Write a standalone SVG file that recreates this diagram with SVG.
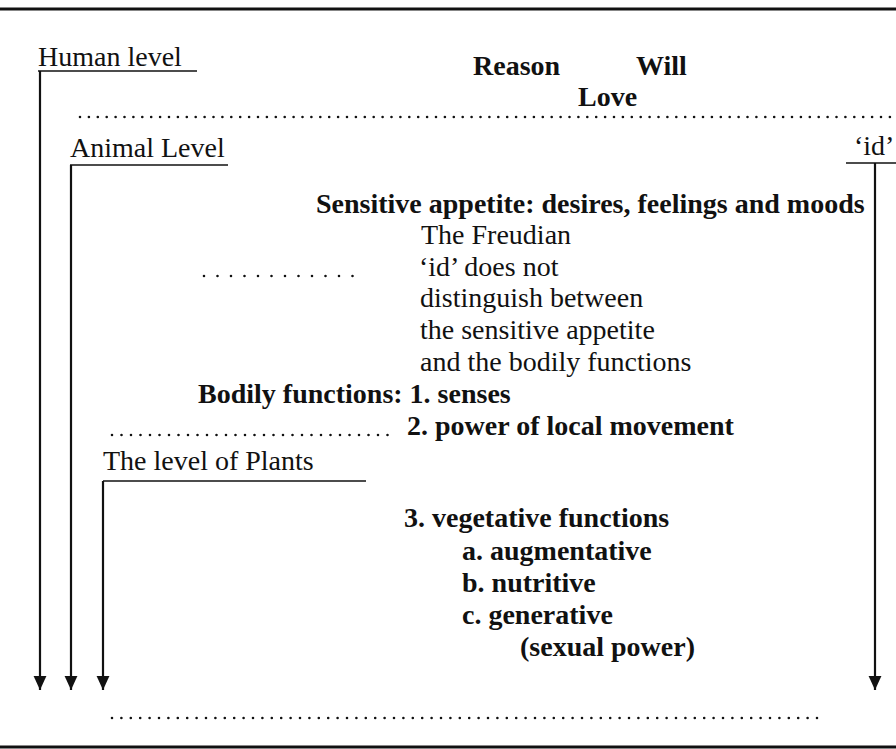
<svg xmlns="http://www.w3.org/2000/svg" width="896" height="749" viewBox="0 0 896 749">
<style>
text{font-family:"Liberation Serif","Times New Roman",serif;font-size:28px;fill:#111}
.b{font-weight:bold}
.rule{stroke:#111;stroke-width:3;fill:none}
.ul{stroke:#111;stroke-width:1.6;fill:none}
.arr{stroke:#111;stroke-width:2.2;fill:none}
.dot{stroke:#111;stroke-width:2.6;stroke-linecap:round;fill:none}
</style>
<defs>
<marker id="ah" markerUnits="userSpaceOnUse" markerWidth="14" markerHeight="14" refX="12" refY="6" orient="auto" viewBox="0 0 12 12">
<path d="M0,0.5 L12,6 L0,11.5 Z" fill="#111"/>
</marker>
</defs>
<rect width="896" height="749" fill="#fff"/>
<line class="rule" x1="0" y1="9" x2="896" y2="9"/>
<line class="rule" x1="0" y1="747" x2="896" y2="747"/>
<g id="connectors">
<path class="arr" d="M40,71 V690" marker-end="url(#ah)"/>
<path class="arr" d="M71,165 V690" marker-end="url(#ah)"/>
<path class="arr" d="M103,481 V690" marker-end="url(#ah)"/>
<path class="arr" d="M875,163 V690" marker-end="url(#ah)"/>
</g>
<g id="dividers">
<line class="dot" x1="80" y1="117" x2="896" y2="117" stroke-dasharray="0 8.9"/>
<line class="dot" x1="204" y1="276" x2="366" y2="276" stroke-dasharray="0 13.5"/>
<line class="dot" x1="112" y1="435" x2="388" y2="435" stroke-dasharray="0 9.5"/>
<line class="dot" x1="112" y1="718" x2="820" y2="718" stroke-dasharray="0 9.4"/>
</g>
<g id="human-level">
<text x="38" y="66">Human level</text>
<line class="ul" x1="38" y1="71" x2="197" y2="71"/>
</g>
<g id="human-powers">
<text class="b" x="473" y="75">Reason</text>
<text class="b" x="636" y="75">Will</text>
<text class="b" x="578" y="106">Love</text>
</g>
<g id="animal-level">
<text x="70" y="157">Animal Level</text>
<line class="ul" x1="70" y1="165" x2="228" y2="165"/>
</g>
<g id="id-label">
<text x="854" y="155">‘id’</text>
<line class="ul" x1="846" y1="163" x2="896" y2="163"/>
</g>
<g id="sensitive-appetite">
<text class="b" x="316" y="213">Sensitive appetite: desires, feelings and moods</text>
</g>
<g id="freudian-note">
<text x="421" y="244">The Freudian</text>
<text x="419" y="276">‘id’ does not</text>
<text x="420" y="307">distinguish between</text>
<text x="420" y="339">the sensitive appetite</text>
<text x="420" y="371">and the bodily functions</text>
</g>
<g id="bodily-functions">
<text class="b" x="198" y="403">Bodily functions: 1. senses</text>
<text class="b" x="407" y="435">2. power of local movement</text>
</g>
<g id="plant-level">
<text x="103" y="470">The level of Plants</text>
<line class="ul" x1="103" y1="481" x2="366" y2="481"/>
</g>
<g id="vegetative-functions">
<text class="b" x="404" y="527">3. vegetative functions</text>
<text class="b" x="462" y="560">a. augmentative</text>
<text class="b" x="462" y="592">b. nutritive</text>
<text class="b" x="462" y="624">c. generative</text>
<text class="b" x="520" y="656">(sexual power)</text>
</g>
</svg>
